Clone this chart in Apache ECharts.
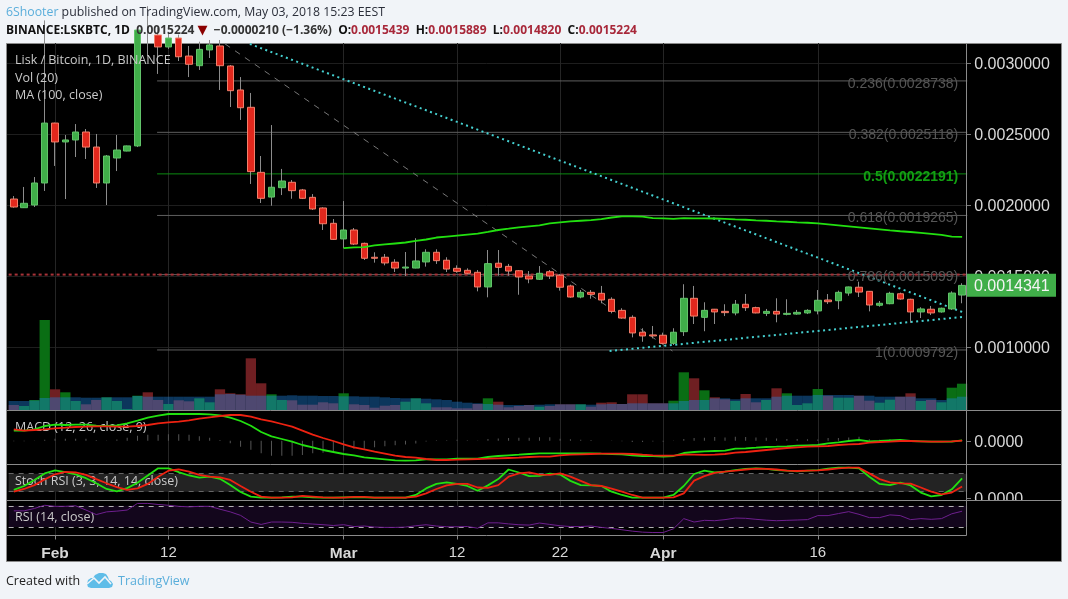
<!DOCTYPE html>
<html>
<head>
<meta charset="utf-8">
<title>LSKBTC</title>
<script src="https://cdn.jsdelivr.net/npm/echarts@6/dist/echarts.min.js"></script>
<style>
  html, body { margin: 0; padding: 0; background: #f1f4f8; }
  #main { width: 1068px; height: 599px; }
</style>
</head>
<body>
<div id="main"></div>
<script>
// daily candles, Jan 28 to Apr 30 2018
var categories = [];
for (var d = new Date(Date.UTC(2018, 0, 28)), n = 0; n < 93; n++) {
  categories.push(new Date(d.getTime() + n * 86400000).toISOString().slice(0, 10));
}
var tickLabels = { 4: "Feb", 15: "12", 32: "Mar", 43: "12", 53: "22", 63: "Apr", 78: "16" };
var priceTicks = [0.001, 0.0015, 0.002, 0.0025, 0.003];

// prices in millionths of a BTC
var openU = [2042,1981,2000,2155,2577,2444,2458,2514,2408,2155,2331,2380,2416,3300,3197,3113,3176,3049,2981,3092,3120,2979,2810,2688,2230,2056,2122,2160,2106,2054,1979,1871,1761,1824,1730,1632,1632,1597,1556,1556,1599,1667,1611,1554,1540,1526,1423,1590,1568,1537,1500,1477,1530,1505,1430,1352,1385,1378,1336,1258,1209,1104,1085,1083,1026,1108,1343,1209,1266,1251,1240,1301,1277,1237,1251,1230,1232,1240,1254,1331,1326,1380,1421,1392,1294,1305,1375,1336,1247,1266,1247,1268,1366];
var closeU = [1986,2012,2155,2577,2444,2458,2514,2408,2155,2345,2387,2416,3232,3230,3113,3176,3044,2991,3096,3127,2981,2805,2685,2235,2047,2125,2169,2101,2047,1972,1868,1758,1824,1725,1625,1625,1592,1556,1563,1606,1667,1608,1549,1533,1519,1423,1587,1561,1535,1493,1479,1519,1500,1421,1352,1385,1371,1331,1251,1204,1099,1078,1078,1026,1104,1343,1218,1258,1247,1242,1301,1277,1240,1251,1232,1237,1244,1258,1329,1319,1385,1423,1387,1296,1308,1378,1338,1247,1268,1240,1273,1380,1434];
var lowU = [1981,1979,1986,2099,2275,2042,2338,2324,2120,2000,2239,2378,2408,3049,2923,3099,3014,2901,2951,3035,2810,2690,2599,2148,2014,1995,2070,2044,2042,1965,1824,1754,1695,1718,1613,1594,1575,1528,1500,1554,1566,1585,1528,1523,1514,1392,1350,1502,1502,1368,1449,1472,1479,1397,1347,1343,1340,1308,1237,1199,1068,1037,1061,1021,1014,1078,1162,1111,1162,1218,1223,1254,1237,1218,1174,1223,1227,1232,1230,1303,1266,1361,1352,1251,1284,1301,1333,1171,1204,1225,1242,1261,1308];
var highU = [2063,2127,2197,3300,2580,2493,2570,2535,2500,2352,2493,2418,3240,3400,3250,3220,3200,3120,3150,3162,3162,2986,2901,2789,2345,2563,2254,2176,2113,2077,1984,1901,2028,1838,1735,1667,1655,1618,1669,1766,1688,1688,1632,1575,1554,1542,1683,1683,1585,1542,1535,1570,1542,1514,1439,1401,1401,1430,1350,1273,1223,1132,1148,1101,1132,1442,1430,1315,1268,1301,1331,1373,1284,1268,1343,1336,1261,1266,1401,1373,1397,1425,1460,1394,1324,1389,1383,1340,1280,1289,1277,1392,1449];
var lastClose = 0.0014341;

// 100 day MA starts on Mar 1
var ma100U = [null,null,null,null,null,null,null,null,null,null,null,null,null,null,null,null,null,null,null,null,null,null,null,null,null,null,null,null,null,null,null,null,1697,1701,1704,1715,1722,1729,1736,1747,1757,1771,1778,1785,1792,1799,1810,1824,1833,1843,1850,1857,1871,1878,1884,1889,1894,1901,1912,1920,1920,1918,1908,1906,1903,1907,1906,1906,1905,1903,1899,1896,1892,1889,1885,1882,1878,1875,1870,1863,1856,1849,1842,1835,1828,1821,1815,1810,1803,1796,1789,1778,1776];

var volume = [5,4,10,90,20.7,17.7,9,5.7,10,12.7,9,1,14.3,17.7,10,6,9.7,8.7,11.7,7.7,20.7,16.7,15.7,51.7,26.7,15.7,10,9.7,5.3,5.3,7.7,6.7,16.7,5.7,5,2.3,4.3,5,8.3,11.7,6.7,2.7,2.7,1.7,1.7,6,11.7,8.3,2.7,4,5,3.3,4,5.7,5.7,5.7,3.3,7.3,7.7,6,15.7,15.7,6.7,6.7,9.3,37.7,31.7,19.7,12.7,10.7,9,16,7.7,10,21.7,16.7,5,6.7,21,14.3,12.3,12.3,14.3,9.3,7.3,10.3,13.3,16.7,9,10,7.7,22.3,26.3];
var volumeMa = [9,9,9.5,12,12.7,12.7,12.7,12.3,12.3,12.7,12.7,12.7,14,13.3,13.3,13.3,13.3,13.3,13.3,13.3,15.7,16,15.3,14.3,14.3,14.3,14.3,14.7,14.3,14.3,14,14,13.7,13.7,13.3,13.3,12.7,12,11.7,11.7,11.3,10.7,10,8.3,7.3,6.7,6,5.3,5,5,5,5.3,5.7,5.7,5.7,5.7,5.3,5.7,6,6,6.7,6.7,6.7,6.7,6.7,9,10,10,11.7,11.7,10.7,11.7,11.7,11.7,13.3,14.3,14.3,14.3,15,15,15,15,14.3,14.3,13.3,13.3,13.3,13.3,11.7,11.7,10,11.7,13.3];

// macd values in 1e-5 BTC
var macdLine = [10,10,11.4,14.7,16,15.7,16,16,15,14.7,15.4,17.4,20,23,25,26.7,26.7,26.7,26.7,26.4,25.4,23,19.7,15,8.7,4.4,1.7,-1,-4.3,-6.6,-9.3,-11.3,-13.3,-14.6,-16.6,-17.6,-18.6,-19.6,-20,-19.7,-18.6,-18.6,-18.6,-18,-18,-18,-16.3,-15.3,-14.6,-14,-13.3,-12.6,-12.6,-12.6,-12.6,-12.6,-12.6,-13,-13.3,-13.6,-14.6,-15.3,-15.3,-16,-15.3,-12.3,-11.3,-10.6,-10.3,-10,-8,-7.6,-7,-6.3,-6,-5.6,-5,-4.6,-4.3,-2.6,-1.6,-0.3,0.7,-0.6,-0.3,0.4,0.7,-0.3,-0.6,-1,-1,-1,0.4];
var macdSignal = [11.4,10,10.7,11.4,12.4,13,13.7,14,14.4,14.4,14,14,14.7,15.7,17.4,18.4,19,20.4,22,23.4,24.7,25.7,25.7,24,21.4,19.4,16.7,14,10,6,2.7,-0.3,-3.6,-6.6,-8.6,-11,-13,-15,-16.3,-17,-18.3,-19.3,-19.3,-19,-18.6,-18.3,-18,-17.6,-17.3,-17,-16.3,-16,-16,-14.6,-14,-13.6,-13.3,-13,-13,-13,-13.3,-14,-14.6,-15,-15,-14,-14,-14.2,-14,-13.3,-12,-11.3,-10.3,-9.3,-8.3,-7.3,-6.6,-6,-5.6,-5.3,-4.3,-3.6,-3.3,-2,-1.3,-1,-0.3,-0.3,-0.6,-1,-1,-0.6,0];
var macdHist = [-0.5,-0.5,0.3,1,2,2,2,2,0.7,0.3,1.3,3,5,6,6,6.5,6.5,6,4.5,3,0.7,-2.5,-6,-9,-12.5,-15,-15,-15,-14.3,-12.6,-12,-11,-9.7,-8,-8,-6.6,-5.6,-4.6,-3.7,-2.7,-0.7,0.5,0.5,1,0.5,0.3,1.7,2.3,2.7,3,3,3.4,3.4,2,1.4,1,0.7,0,-0.3,-0.6,-1.3,-1.3,-0.7,-1,-0.3,1.7,2.7,3,3.7,3.3,4,3.7,3.3,3,2.3,1.7,1.6,1.4,1.3,2.7,2.7,3.3,4,1.4,1,1.4,1,0,0,0,0,-0.4,0.4];

var stochK = [26,39,59,81,91,85,78,65,48,29,21,32,50,74,98,98,85,74,67,70,63,42,19,3.5,0,0,1,3.5,3.5,1,0,0,1,2,1,0,0,0,0,9,31,46,51,46,39,23,41,62,94,84,72,73,80,77,56,42,41,39,20,9,0,0,0,0,9,39,79,90,84,87,92,96,98,96,92,90,88,90,92,97,100,100,98,70,46,42,50,41,17,4.5,9,28,64];
var stochD = [20,29,42,61,78,86,84,76,62,48,35,26,31,46,70,90,94,87,76,70,68,59,39,20,3.5,0,0,1,6,3.5,1,0,0,3,3,0,0,0,0,3.5,14.5,29,41,46,46,34,33,42,70,81,84,77,76,81,70,56,42,39,30,20,9,0,0,0,1,14.5,57,72,83,87,90,94,97,96,94,90,89,90,91,94,98,100,100,81,62,51,48,47,34,20,11,17,37];

var rsi = [60.5,60.5,65,71,69,69,70,62,53.5,58.6,60,62,74.5,74.5,72.5,71,69,68,69,69,63.6,58.6,52,39.5,35,39.5,39.5,39,37,35.7,34.5,33,34.5,31,32,30,29.4,29.4,30,32.5,34.4,32,30.6,30.6,31,28,38,38,36,34.4,33.8,37.6,35,32.5,31,31,32,29.4,27.5,25,22.4,20.5,19.8,19.8,26.8,45.9,39.5,42.7,42,44,47,46.5,44.6,43,42,42.7,43.3,44,51.6,51.6,55.4,59,54,47.8,47.8,52.9,51.6,44,45.9,44.6,45.9,55,59.8];

// fibonacci retracement levels
var fibLevels = [0.0028738, 0.0025118, 0.0022191, 0.0019265, 0.0015099, 0.0009792];
var fibNames = ["0.236", "0.382", "0.5", "0.618", "0.786", "1"];

// trend lines as [candle position, price]
var trendDown = [[22.9, 0.003134], [92.3, 0.001239]];
var trendUp = [[57.8, 0.000972], [92.3, 0.001213]];
var fibDiagonal = [[20.5, 0.003134], [63.9, 0.000972]];
var resistance = 0.00151;

var GREEN = "#40ae49", RED = "#e2281d";
var FONT = "Arial, 'Liberation Sans', sans-serif";
var UI_FONT = "'Open Sans', sans-serif";
var LEFT = 8.65, WIDTH = 958.6;
var BORDER = "#8a8a8a";

var BTC = function (v) { return v === null ? null : v / 1e6; };

function paneGrid(top, height) {
  return { left: LEFT, width: WIDTH, top: top, height: height, show: false };
}

function catAxis(grid, withLabels) {
  return {
    type: "category", gridIndex: grid, data: categories,
    axisLine: { show: false },
    axisTick: {
      show: withLabels, alignWithLabel: true, length: 4,
      lineStyle: { color: "#888" },
      interval: function (i) { return tickLabels[i] !== undefined; }
    },
    axisLabel: {
      show: withLabels, margin: 10, hideOverlap: false,
      interval: function (i) { return tickLabels[i] !== undefined; },
      formatter: function (v, i) {
        var t = tickLabels[i];
        return /[a-z]/.test(t) ? "{b|" + t + "}" : "{n|" + t + "}";
      },
      rich: {
        b: { fontFamily: FONT, fontSize: 15.5, fontWeight: "bold", color: "#d8d8d8" },
        n: { fontFamily: FONT, fontSize: 15, color: "#d8d8d8" }
      }
    },
    splitLine: {
      show: true, alignWithLabel: true,
      lineStyle: { color: "#252525" },
      interval: function (i) { return tickLabels[i] !== undefined; }
    }
  };
}

function valAxis(grid, min, max, ticks, fmt) {
  return {
    type: "value", gridIndex: grid, position: "right", min: min, max: max, scale: true,
    axisLine: { show: false },
    axisTick: { show: false, customValues: ticks },
    axisLabel: {
      show: true, margin: 7, customValues: ticks,
      formatter: function (v) { return "{t|" + fmt(v) + "}"; },
      rich: { t: { fontFamily: FONT, fontSize: 16, color: "#d8d8d8", padding: [3, 0, 0, 0] } }
    },
    splitLine: { show: false }
  };
}

function curve(name, x, y, data, color, width) {
  return {
    name: name, type: "line", xAxisIndex: x, yAxisIndex: y, data: data,
    showSymbol: false, smooth: false, connectNulls: false,
    lineStyle: { color: color, width: width }, z: 6
  };
}

function overlay(name, data, color, type, width) {
  return {
    name: name, type: "line", xAxisIndex: 4, yAxisIndex: 0, data: data,
    showSymbol: false, animation: false,
    lineStyle: { color: color, width: width || 1, type: type || "solid" }, z: 4
  };
}

function bandLines(lo, hi, dash) {
  return {
    silent: true, symbol: "none", label: { show: false },
    lineStyle: { color: dash, type: [5, 5], width: 1 },
    data: [{ yAxis: lo }, { yAxis: hi }]
  };
}

function legendText(text, top) {
  return {
    text: text, left: 15, top: top, padding: 0,
    textStyle: { fontFamily: UI_FONT, fontSize: 12.5, fontWeight: "normal", color: "#c9c9c9" }
  };
}

var series = [];

// volume first so the candles sit on top of it
series.push({
  name: "Vol", type: "bar", xAxisIndex: 0, yAxisIndex: 1, barWidth: "100%", barGap: "-100%", z: 1,
  data: volume.map(function (v, i) {
    return { value: v, itemStyle: { color: closeU[i] >= openU[i] ? "#0a6e14" : "#6f1f22" } };
  })
});
series.push({
  name: "Vol MA", type: "bar", xAxisIndex: 0, yAxisIndex: 1, barWidth: "100%", barGap: "-100%", z: 1,
  data: volumeMa, itemStyle: { color: "rgba(30,136,229,0.4)" }
});

// fib lines
fibLevels.forEach(function (lv, i) {
  var isMid = fibNames[i] === "0.5";
  var s = overlay("fib " + fibNames[i], [[13.9, lv], [92.5, lv]], isMid ? "#0c8a10" : "#5f5f5f");
  s.endLabel = {
    show: true, align: "right", distance: 0, offset: [-9, 3],
    formatter: fibNames[i] + "(" + lv.toFixed(7) + ")",
    fontFamily: FONT, fontSize: 14, color: isMid ? "#12a012" : "#565656",
    fontWeight: isMid ? "bold" : "normal"
  };
  series.push(s);
});
series.push(overlay("resistance", [[-0.5, resistance], [92.5, resistance]], "#a83238", [3, 3], 2));
series.push(overlay("fib trend", fibDiagonal, "#777", [6, 6]));
series.push(overlay("trend down", trendDown, "#45d0d0", [2, 3.5], 2));
series.push(overlay("trend up", trendUp, "#45d0d0", [2, 3.5], 2));

// wicks and bodies are two series, the wicks are grey
series.push({
  name: "wicks", type: "candlestick", xAxisIndex: 0, yAxisIndex: 0, barWidth: 1, z: 5,
  data: openU.map(function (o, i) { return [BTC(o), BTC(closeU[i]), BTC(lowU[i]), BTC(highU[i])]; }),
  itemStyle: { color: "#8c8c8c", color0: "#8c8c8c", borderColor: "#8c8c8c", borderColor0: "#8c8c8c", borderWidth: 1 }
});
series.push({
  name: "LSKBTC", type: "candlestick", xAxisIndex: 0, yAxisIndex: 0, barWidth: 7, z: 5,
  data: openU.map(function (o, i) {
    return [BTC(o), BTC(closeU[i]), BTC(Math.min(o, closeU[i])), BTC(Math.max(o, closeU[i]))];
  }),
  itemStyle: { color: GREEN, color0: RED, borderColor: "#62c46a", borderColor0: "#f2806c", borderWidth: 1 }
});
series.push(curve("MA 100", 0, 0, ma100U.map(BTC), "#22e010", 1.8));

// macd pane
series.push({
  name: "MACD hist", type: "bar", xAxisIndex: 1, yAxisIndex: 2, barWidth: 1,
  data: macdHist, itemStyle: { color: "#555" }, z: 3
});
series.push(curve("MACD", 1, 2, macdLine, "#22e010", 1.8));
series.push(curve("Signal", 1, 2, macdSignal, "#ee2211", 1.8));

// stoch rsi pane
var stochKSeries = curve("%K", 2, 3, stochK, "#22e010", 1.8);
stochKSeries.markArea = {
  silent: true, itemStyle: { color: "#232323" },
  data: [[{ yAxis: 20 }, { yAxis: 80 }]]
};
stochKSeries.markLine = bandLines(20, 80, "#666");
series.push(stochKSeries);
series.push(curve("%D", 2, 3, stochD, "#ee2211", 1.8));

// rsi pane
var rsiSeries = curve("RSI", 3, 4, rsi, "#6e1f8e", 1);
rsiSeries.markArea = {
  silent: true, itemStyle: { color: "#13061c" },
  data: [[{ yAxis: 30 }, { yAxis: 70 }]]
};
rsiSeries.markLine = bandLines(30, 70, "#b0b0b0");
series.push(rsiSeries);

var option = {
  animation: false,
  backgroundColor: "#f1f4f8",
  title: [
    {
      left: 6, top: 6, padding: 0,
      text: "{a|6Shooter}{b| published on TradingView.com, May 03, 2018 15:23 EEST}",
      textStyle: { rich: {
        a: { fontFamily: UI_FONT, fontSize: 12.3, color: "#5aaedb", fontWeight: "normal" },
        b: { fontFamily: UI_FONT, fontSize: 12.3, color: "#2a2e39", fontWeight: "normal" }
      } }
    },
    {
      left: 6, top: 24, padding: 0,
      text: "{k|BINANCE:LSKBTC, 1D}{v|  0.0015224 }{r|▼}{v|  −0.0000210 (−1.36%)  }{k|O:}{d|0.0015439  }{k|H:}{d|0.0015889  }{k|L:}{d|0.0014820  }{k|C:}{d|0.0015224}",
      textStyle: { rich: {
        k: { fontFamily: UI_FONT, fontSize: 12, fontWeight: "bold", color: "#111" },
        v: { fontFamily: UI_FONT, fontSize: 12, color: "#333" },
        r: { fontFamily: "'DejaVu Sans'", fontSize: 13, color: "#8b0000" },
        d: { fontFamily: UI_FONT, fontSize: 12, color: "#a8283a" }
      } }
    },
    legendText("Lisk / Bitcoin, 1D, BINANCE", 54),
    legendText("Vol (20)", 72),
    legendText("MA (100, close)", 89),
    legendText("MACD (12, 26, close, 9)", 421),
    legendText("Stoch RSI (3, 3, 14, 14, close)", 475),
    legendText("RSI (14, close)", 511),
    {
      left: 6, top: 575, padding: 0, text: "Created with",
      textStyle: { fontFamily: UI_FONT, fontSize: 12.5, fontWeight: "normal", color: "#222" }
    },
    {
      left: 118, top: 575, padding: 0, text: "TradingView",
      textStyle: { fontFamily: UI_FONT, fontSize: 12.5, fontWeight: "normal", color: "#5aaedb" }
    }
  ],
  grid: [paneGrid(43, 367), paneGrid(410, 54), paneGrid(464, 36), paneGrid(500, 35.5)],
  xAxis: [
    catAxis(0, false), catAxis(1, false), catAxis(2, false), catAxis(3, true),
    { type: "value", gridIndex: 0, min: -0.5, max: 92.5, show: false }
  ],
  yAxis: [
    valAxis(0, 0.0005564, 0.0031408, priceTicks, function (v) { return v.toFixed(7); }),
    { type: "value", gridIndex: 0, min: 0, max: 367, show: false },
    valAxis(1, -23.3, 30.7, [0], function () { return "0.0000"; }),
    valAxis(2, -7.7, 112.3, [0], function () { return "0.0000"; }),
    { type: "value", gridIndex: 3, min: 14.2, max: 80.9, show: false }
  ],
  series: series
};

var chart = echarts.init(document.getElementById("main"), null, { renderer: "canvas" });
chart.setOption(option);

// frame, right axis ticks, faint price grid and price tag are placed from the axis scales
var frame = [
  { type: "rect", z: -1, silent: true, shape: { x: 6.5, y: 43.5, width: 1055, height: 518 },
    style: { fill: "#000", stroke: BORDER, lineWidth: 1 } },
  // hides the part of the stoch axis label under the rsi pane
  { type: "rect", z: 20, silent: true, shape: { x: 968, y: 500.5, width: 93, height: 30 }, style: { fill: "#000" } },
  { type: "line", z: 21, silent: true, shape: { x1: 6.5, y1: 410.5, x2: 1061.5, y2: 410.5 }, style: { stroke: BORDER } },
  { type: "line", z: 21, silent: true, shape: { x1: 6.5, y1: 464.5, x2: 1061.5, y2: 464.5 }, style: { stroke: BORDER } },
  { type: "line", z: 21, silent: true, shape: { x1: 6.5, y1: 500.5, x2: 1061.5, y2: 500.5 }, style: { stroke: BORDER } },
  { type: "line", z: 21, silent: true, shape: { x1: 6.5, y1: 535.5, x2: 966.5, y2: 535.5 }, style: { stroke: BORDER } },
  { type: "line", z: 21, silent: true, shape: { x1: 966.5, y1: 43.5, x2: 966.5, y2: 535.5 }, style: { stroke: BORDER } },
  // TradingView logo
  { type: "polygon", silent: true,
    shape: { points: [[87,584],[88,580],[91,578],[93,578],[95,575],[99,573],[103,573],[106,574],[108,577],[109,580],[111,581],[113,584],[112,587],[109,588],[91,588],[88,587]] },
    style: { fill: "#5fbde8" } },
  { type: "polyline", silent: true, shape: { points: [[87,584],[94,578],[99,583],[105,577],[111,584]] },
    style: { stroke: "#f1f4f8", fill: "none", lineWidth: 1.6 } }
];
priceTicks.forEach(function (v) {
  var y = Math.round(chart.convertToPixel({ yAxisIndex: 0 }, v)) + 0.5;
  frame.push({ type: "line", z: -1, silent: true, shape: { x1: 7, y1: y, x2: 966, y2: y }, style: { stroke: "#1e1e1e" } });
  frame.push({ type: "line", z: 21, silent: true, shape: { x1: 967, y1: y, x2: 971, y2: y }, style: { stroke: "#777" } });
});
[[2, 0], [3, 0]].forEach(function (a) {
  var y = Math.round(chart.convertToPixel({ yAxisIndex: a[0] }, a[1])) + 0.5;
  frame.push({ type: "line", z: 21, silent: true, shape: { x1: 967, y1: y, x2: 971, y2: y }, style: { stroke: "#777" } });
});
var tagY = chart.convertToPixel({ yAxisIndex: 0 }, lastClose);
frame.push({ type: "rect", z: 22, silent: true, shape: { x: 967, y: tagY - 11.5, width: 89, height: 23 }, style: { fill: GREEN } });
frame.push({ type: "text", z: 23, silent: true, x: 974, y: tagY + 1, style: {
  text: lastClose.toFixed(7), fill: "#f4f4f4", font: "16px " + FONT, verticalAlign: "middle"
} });
chart.setOption({ graphic: frame });
</script>
</body>
</html>
